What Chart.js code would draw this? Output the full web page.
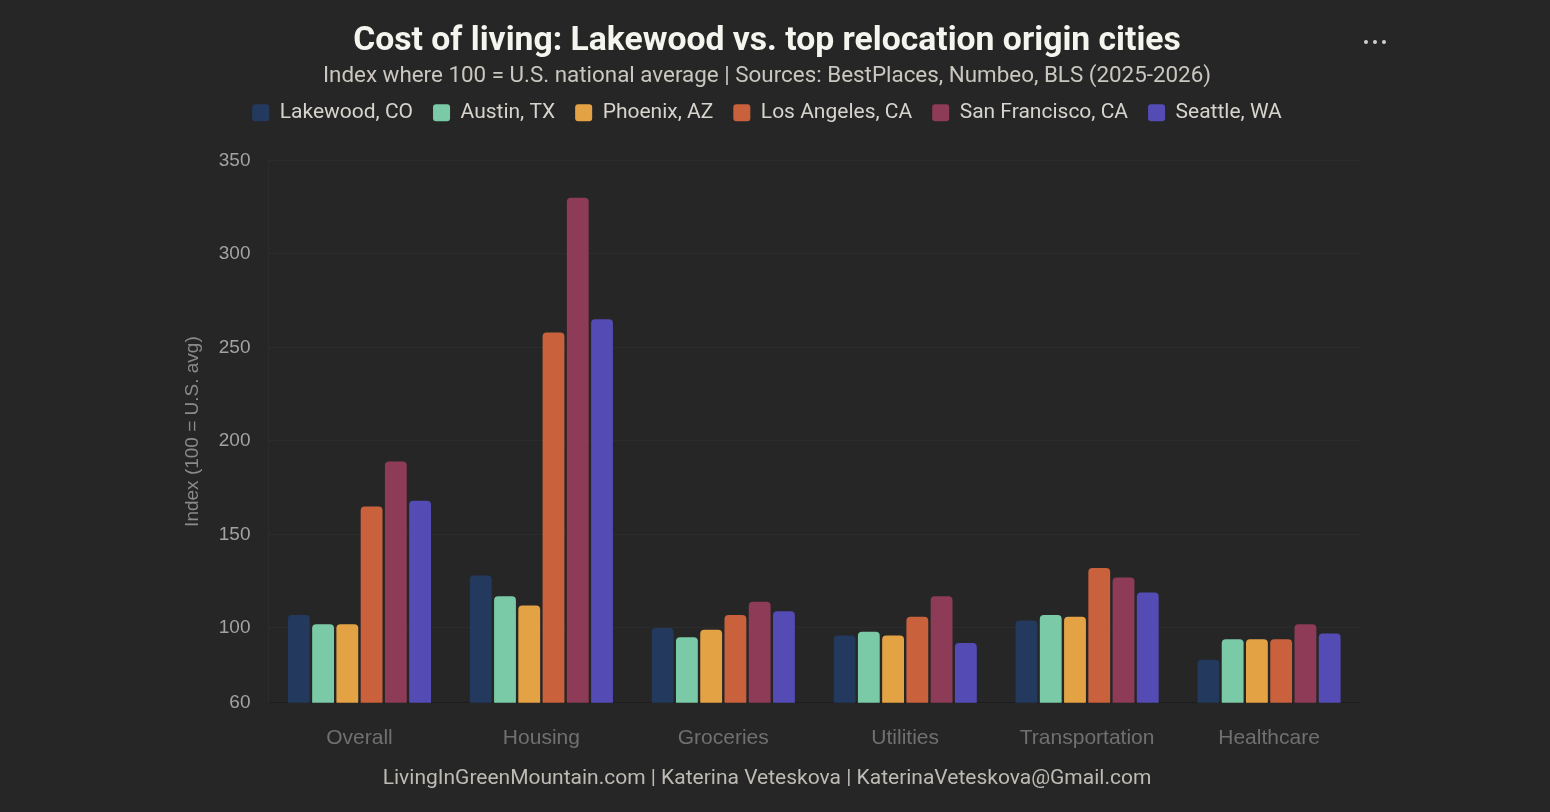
<!DOCTYPE html>
<html>
<head>
<meta charset="utf-8">
<script src="https://cdn.jsdelivr.net/npm/chart.js@4.4.1/dist/chart.umd.min.js"></script>
<style>
  html, body { margin: 0; padding: 0; background: #262626; }
  #wrap { position: relative; width: 1550px; height: 812px; }
</style>
</head>
<body>
<div id="wrap"><canvas id="c" width="1550" height="812"></canvas></div>
<script>
const categories = ['Overall', 'Housing', 'Groceries', 'Utilities', 'Transportation', 'Healthcare'];
const seriesNames = ['Lakewood, CO', 'Austin, TX', 'Phoenix, AZ', 'Los Angeles, CA', 'San Francisco, CA', 'Seattle, WA'];
const lakewood     = [107, 128, 100, 96, 104, 83];
const austin       = [102, 117, 95, 98, 107, 94];
const phoenix      = [102, 112, 99, 96, 106, 94];
const losAngeles   = [165, 258, 107, 106, 132, 94];
const sanFrancisco = [189, 330, 114, 117, 127, 102];
const seattle      = [168, 265, 109, 92, 119, 97];
const yTicks = [60, 100, 150, 200, 250, 300, 350];
const footerText = 'LivingInGreenMountain.com | Katerina Veteskova | KaterinaVeteskova@Gmail.com';

const colors = ['#233a5e', '#7acaa7', '#e3a345', '#c9613c', '#8d3b57', '#544bb5'];
const values = [lakewood, austin, phoenix, losAngeles, sanFrancisco, seattle];

const PAD_LEFT = 174, PAD_RIGHT = 190;

const decorations = {
  id: 'decorations',
  afterDraw(chart) {
    const ctx = chart.ctx;
    ctx.save();
    ctx.fillStyle = '#d0d0d0';
    [1366, 1375, 1384].forEach(x => {
      ctx.beginPath(); ctx.arc(x, 42, 2, 0, Math.PI * 2); ctx.fill();
    });
    ctx.fillStyle = '#bdbbb4';
    ctx.font = '21px Roboto';
    ctx.textAlign = 'center';
    ctx.textBaseline = 'middle';
    const cx = (PAD_LEFT + (chart.width - PAD_RIGHT)) / 2;
    ctx.fillText(footerText, cx, 779);
    ctx.restore();
  }
};

const legendSpace = {
  id: 'legendSpace',
  beforeInit(chart) {
    const origFit = chart.legend.fit;
    chart.legend.fit = function () {
      origFit.call(this);
      this.height += 27;
    };
  }
};

new Chart(document.getElementById('c'), {
  type: 'bar',
  data: {
    labels: categories,
    datasets: seriesNames.map((n, i) => ({
      label: n,
      data: values[i],
      backgroundColor: colors[i],
      borderColor: colors[i],
      borderWidth: 0,
      borderRadius: 4,
      borderSkipped: 'start',
      categoryPercentage: 0.8,
      barPercentage: 0.9
    }))
  },
  options: {
    responsive: false,
    animation: false,
    devicePixelRatio: 1,
    layout: { padding: { left: PAD_LEFT, right: PAD_RIGHT, top: 0, bottom: 38 } },
    plugins: {
      title: {
        display: true,
        text: 'Cost of living: Lakewood vs. top relocation origin cities',
        color: '#f5f5f0',
        font: { family: 'Roboto', size: 33.7, weight: 'bold' },
        padding: { top: 21, bottom: 1 }
      },
      subtitle: {
        display: true,
        text: 'Index where 100 = U.S. national average | Sources: BestPlaces, Numbeo, BLS (2025-2026)',
        color: '#c9c7bf',
        font: { family: 'Roboto', size: 22.4 },
        padding: { top: 1, bottom: -8 }
      },
      legend: {
        display: true,
        labels: {
          color: '#d6d4cd',
          font: { family: 'Roboto', size: 21 },
          boxWidth: 17,
          boxHeight: 17,
          useBorderRadius: true,
          borderRadius: 3,
          padding: 20
        }
      },
      tooltip: { enabled: false }
    },
    scales: {
      x: {
        grid: { display: false, drawTicks: false },
        border: { display: true, color: '#1c1c1c', width: 1 },
        ticks: { color: '#707070', font: { family: 'Liberation Sans', size: 21 }, padding: 23 }
      },
      y: {
        min: 60,
        max: 350,
        afterBuildTicks(axis) { axis.ticks = yTicks.map(v => ({ value: v })); },
        grid: { color: '#2c2c2c', drawTicks: false },
        border: { display: true, color: '#2c2c2c' },
        ticks: { color: '#a3a3a3', font: { family: 'Liberation Sans', size: 19 }, padding: 18 },
        title: {
          display: true,
          text: 'Index (100 = U.S. avg)',
          color: '#8a8a8a',
          font: { family: 'Liberation Sans', size: 19 },
          padding: { top: 7, bottom: -3 }
        }
      }
    }
  },
  plugins: [decorations, legendSpace]
});
</script>
</body>
</html>
